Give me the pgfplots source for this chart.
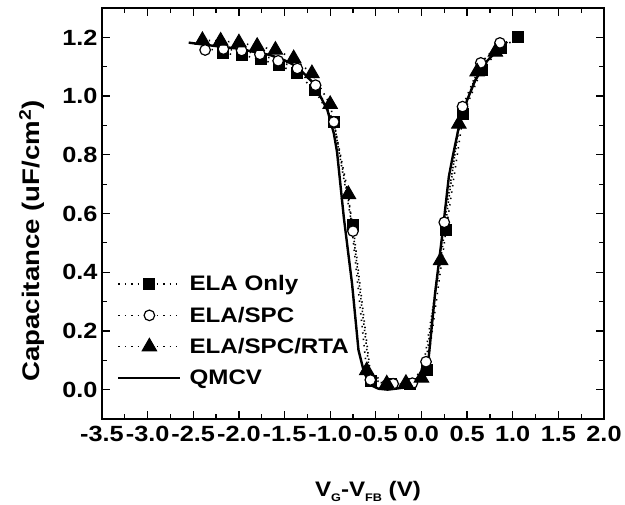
\documentclass[border=0pt]{standalone}
\usepackage{pgfplots}
\pgfplotsset{compat=1.18}
\usepackage{fontspec}
\setmainfont{Liberation Sans}[FakeStretch=1.15]
\newcommand{\tf}{\bfseries\fontsize{22}{24}\selectfont}
\newcommand{\gf}{\bfseries\fontsize{21}{24}\selectfont}
\newcommand{\xf}{\bfseries\fontsize{21}{24}\selectfont}
\newcommand{\yf}{\bfseries\fontsize{24}{26}\selectfont}
\newcommand{\sub}[1]{\raisebox{-5pt}{\fontsize{11}{12}\selectfont #1}}

\pgfplotstableread{
x y
-2.17 1.145
-1.97 1.140
-1.76 1.125
-1.56 1.105
-1.36 1.077
-1.17 1.020
-0.96 0.912
-0.75 0.560
-0.55 0.030
-0.33 0.018
-0.12 0.020
0.06 0.067
0.27 0.545
0.46 0.940
0.66 1.090
0.87 1.163
1.06 1.200
}\elaonly

\pgfplotstableread{
x y
-2.37 1.157
-2.17 1.160
-1.97 1.155
-1.77 1.142
-1.57 1.120
-1.36 1.094
-1.16 1.037
-0.96 0.912
-0.75 0.540
-0.56 0.033
-0.31 0.020
-0.10 0.022
0.05 0.095
0.25 0.570
0.45 0.964
0.65 1.113
0.86 1.181
}\elaspc

\pgfplotstableread{
x y
-2.40 1.190
-2.20 1.188
-2.00 1.182
-1.80 1.170
-1.60 1.157
-1.40 1.128
-1.20 1.077
-1.00 0.972
-0.80 0.665
-0.60 0.065
-0.38 0.020
-0.17 0.022
0.00 0.040
0.21 0.440
0.41 0.905
0.61 1.083
0.81 1.150
}\elaspcrta

\pgfplotstableread{
x y
-2.55 1.182
-2.30 1.172
-2.02 1.162
-1.66 1.140
-1.50 1.122
-1.36 1.100
-1.18 1.043
-1.03 0.952
-0.96 0.873
-0.925 0.810
-0.85 0.585
-0.76 0.360
-0.69 0.135
-0.63 0.060
-0.56 0.016
-0.47 0.003
-0.37 0.000
-0.16 0.008
0.00 0.044
0.08 0.112
0.15 0.330
0.23 0.532
0.30 0.725
0.34 0.790
0.41 0.895
0.50 0.986
0.59 1.054
0.72 1.120
0.87 1.168
0.94 1.185
}\qmcv

\begin{document}
\begin{tikzpicture}
\useasboundingbox (-102pt,-86pt) rectangle (523pt,419pt);
\begin{axis}[
  at={(0pt,0pt)}, anchor=south west,
  scale only axis, width=502pt, height=411pt,
  xmin=-3.5, xmax=2.0, ymin=-0.1, ymax=1.3,
  xtick={-3.5,-3.0,-2.5,-2.0,-1.5,-1.0,-0.5,0.0,0.5,1.0,1.5,2.0},
  minor xtick={-3.25,-2.75,-2.25,-1.75,-1.25,-0.75,-0.25,0.25,0.75,1.25,1.75},
  ytick={0,0.2,0.4,0.6,0.8,1.0,1.2},
  minor ytick={-0.1,0.1,0.3,0.5,0.7,0.9,1.1},
  tick align=inside,
  major tick length=8pt, minor tick length=5pt,
  every tick/.style={line width=1.2pt, black},
  axis line style={line width=1.3pt},
  ticklabel style={font=\tf},
  /pgf/number format/assume math mode=true,
  xticklabel style={/pgf/number format/fixed, /pgf/number format/fixed zerofill, /pgf/number format/precision=1, yshift=-4pt},
  yticklabel style={/pgf/number format/fixed, /pgf/number format/fixed zerofill, /pgf/number format/precision=1, xshift=-1pt},
  xlabel={V\sub{G}-V\sub{FB} (V)},
  ylabel={Capacitance (uF/cm\textsuperscript{2})},
  xlabel style={font=\xf, at={(rel axis cs:0.5,0)}, anchor=center, yshift=-72pt, xshift=15pt},
  ylabel style={font=\yf, at={(rel axis cs:0,0.433)}, anchor=center, yshift=70pt},
  legend style={draw=none, fill=none, font=\gf, at={(rel axis cs:0,0)}, anchor=south west, xshift=15pt, yshift=31pt,
     row sep=10.6pt, inner sep=0pt, column sep=6pt},
  legend cell align=left,
  legend image code/.code={
    \draw[mark repeat=2, mark phase=2, #1] plot coordinates {(0pt,0pt) (31pt,0pt) (62pt,0pt)};
  },
]
\addplot[black, line width=1.6pt, dash pattern=on 1.4pt off 5pt, mark=square*, mark size=5.5pt, mark options={solid, fill=black, line width=1pt}] table {\elaonly};
\addlegendentry{ELA Only}
\addplot[black, line width=1.6pt, dash pattern=on 1.4pt off 5pt, mark=*, mark size=5.3pt, mark options={solid, fill=white, line width=1.2pt}] table {\elaspc};
\addlegendentry{ELA/SPC}
\addplot[black, line width=1.6pt, dash pattern=on 1.4pt off 5pt, mark=triangle*, mark size=8.3pt, mark options={solid, fill=black, line width=1pt}] table {\elaspcrta};
\addlegendentry{ELA/SPC/RTA}
\addplot[black, line width=2.4pt, mark=none] table {\qmcv};
\addlegendentry{QMCV}
\end{axis}
\end{tikzpicture}
\end{document}
